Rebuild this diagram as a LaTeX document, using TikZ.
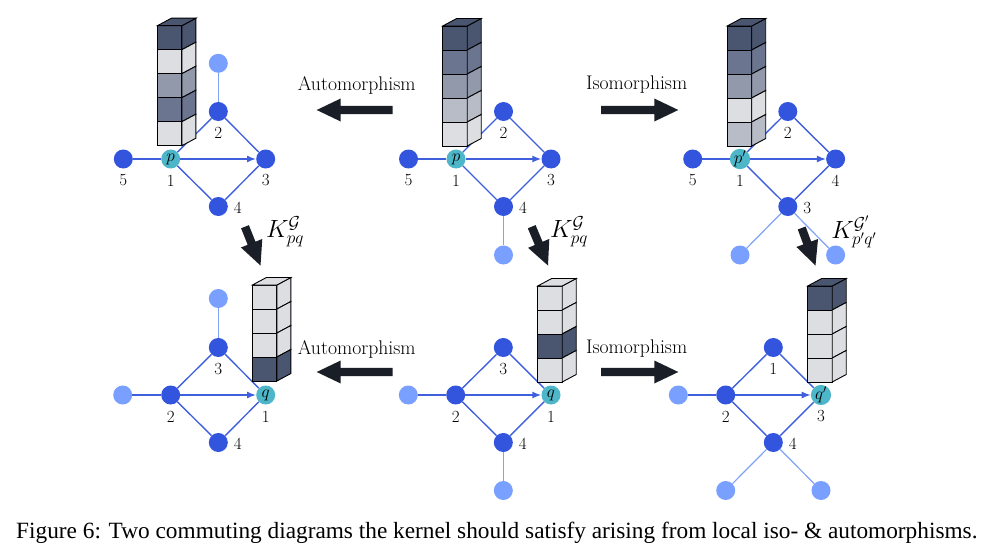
\documentclass[tikz,border=0pt]{standalone}
\usepackage{fontspec}
\usetikzlibrary{calc,arrows.meta}
\newfontfamily\capfont{Liberation Serif}
\definecolor{nd}{HTML}{3355DD}
\definecolor{nl}{HTML}{7AA0FF}
\definecolor{nt}{HTML}{4DB7C9}
\definecolor{ed}{HTML}{3F5FDD}
\definecolor{el}{HTML}{7FA3F5}
\definecolor{cA}{HTML}{4A5570}
\definecolor{cB}{HTML}{6B7590}
\definecolor{cC}{HTML}{9299AA}
\definecolor{cD}{HTML}{B8BCC6}
\definecolor{cE}{HTML}{DCDEE2}
\definecolor{ar}{HTML}{1A1E26}
\tikzset{
 dk/.style={circle,fill=nd,minimum size=19pt,inner sep=0pt},
 lt/.style={circle,fill=nl,minimum size=19pt,inner sep=0pt},
 pn/.style={circle,fill=nt,minimum size=19pt,inner sep=0pt,font=\fontsize{17}{17}\selectfont},
 lab/.style={font=\fontsize{17}{17}\selectfont,inner sep=0pt},
 de/.style={draw=ed,line width=1.4pt},
 le/.style={draw=el,line width=1.2pt},
 ae/.style={de,-{Latex[length=9pt,width=7pt]}},
 cube/.style={draw=black,line width=0.9pt},
 mlab/.style={font=\fontsize{19.7}{20}\selectfont,inner sep=0pt},
 klab/.style={font=\fontsize{24}{24}\selectfont,inner sep=0pt},
}
% tower: #1 x, #2 top y, #3 colours top to bottom
\newcommand\towerat[3]{%
 \foreach \c [count=\i from 0] in {#3} {
  \pgfmathsetmacro\ya{#2+\i*24}
  \filldraw[fill=\c,cube] (#1,\ya) rectangle ++(24.5,24);
  \filldraw[fill=\c,cube] (#1+24.5,\ya) -- ++(14,-7.5) -- ++(0,24) -- ++(-14,7.5) -- cycle;
  \ifnum\i=0
   \filldraw[fill=\c,cube] (#1,\ya) -- ++(14,-7.5) -- ++(24.5,0) -- ++(-14,7.5) -- cycle;
  \fi
 }}
% big arrow from coordinate #1 to coordinate #2
\newcommand\bigarrow[2]{%
 \coordinate (hb) at ($(#2)!24pt!(#1)$);
 \fill[ar] ($(#1)!4.2pt!90:(#2)$) -- ($(hb)!4.2pt!-90:(#1)$) -- ($(hb)!11.5pt!-90:(#1)$) -- (#2)
  -- ($(hb)!11.5pt!90:(#1)$) -- ($(hb)!4.2pt!90:(#1)$) -- ($(#1)!4.2pt!-90:(#2)$) -- cycle;}
\begin{document}
\begin{tikzpicture}[x=1pt,y=-1pt]
\useasboundingbox (0,0) rectangle (986,551);
\fill[white] (0,0) rectangle (986,551);
% ---------- top left ----------
\node[dk] (a5) at (123.3,159) {};
\node[pn] (a1) at (170.7,159) {$p$};
\node[dk] (a2) at (218.3,111.5) {};
\node[dk] (a3) at (265.7,159) {};
\node[dk] (a4) at (218.3,206.5) {};
\node[lt] (a6) at (218.3,63.3) {};
\draw[de] (a5) -- (a1);
\draw[de] (a1) -- (a2);
\draw[de] (a1) -- (a4);
\draw[de] (a2) -- (a3);
\draw[de] (a4) -- (a3);
\draw[le] (a2) -- (a6);
\draw[ae] (a1) -- (a3);
\towerat{157.4}{25.7}{cA,cE,cC,cB,cE}
\node[lab] (la5) at ($(a5)+(0,21.5)$) {5};
\node[lab] (la1) at ($(a1)+(0,21.5)$) {1};
\node[lab] (la3) at ($(a3)+(0,21.5)$) {3};
\node[lab] (la2) at ($(a2)+(0,21.5)$) {2};
\node[lab] (la4) at ($(a4)+(19.5,1.5)$) {4};
% ---------- top middle ----------
\node[dk] (b5) at (408.5,159) {};
\node[pn] (b1) at (456,159) {$p$};
\node[dk] (b2) at (503.5,111.5) {};
\node[dk] (b3) at (551,159) {};
\node[dk] (b4) at (503.5,206.5) {};
\node[lt] (b6) at (503.5,255) {};
\draw[de] (b5) -- (b1);
\draw[de] (b1) -- (b2);
\draw[de] (b1) -- (b4);
\draw[de] (b2) -- (b3);
\draw[de] (b4) -- (b3);
\draw[le] (b4) -- (b6);
\draw[ae] (b1) -- (b3);
\towerat{442.7}{26}{cA,cB,cC,cD,cE}
\node[lab] (lb5) at ($(b5)+(0,21.5)$) {5};
\node[lab] (lb1) at ($(b1)+(0,21.5)$) {1};
\node[lab] (lb3) at ($(b3)+(0,21.5)$) {3};
\node[lab] (lb2) at ($(b2)+(0,21.5)$) {2};
\node[lab] (lb4) at ($(b4)+(19.5,1.5)$) {4};
% ---------- top right ----------
\node[dk] (c5) at (692.7,159) {};
\node[pn] (c1) at (740,159) {$p'$};
\node[dk] (c2) at (787.8,111.5) {};
\node[dk] (c4) at (835.6,159) {};
\node[dk] (c3) at (787.8,206.5) {};
\node[lt] (c6) at (740,255) {};
\node[lt] (c7) at (835.6,255) {};
\draw[de] (c5) -- (c1);
\draw[de] (c1) -- (c2);
\draw[de] (c1) -- (c3);
\draw[de] (c2) -- (c4);
\draw[de] (c3) -- (c4);
\draw[le] (c3) -- (c6);
\draw[le] (c3) -- (c7);
\draw[ae] (c1) -- (c4);
\towerat{727.2}{26}{cA,cB,cC,cE,cD}
\node[lab] (lc5) at ($(c5)+(0,21.5)$) {5};
\node[lab] (lc1) at ($(c1)+(0,21.5)$) {1};
\node[lab] (lc4) at ($(c4)+(0,21.5)$) {4};
\node[lab] (lc2) at ($(c2)+(0,21.5)$) {2};
\node[lab] (lc3) at ($(c3)+(19.5,1.5)$) {3};
% ---------- bottom left ----------
\node[lt] (d5) at (122.7,395) {};
\node[dk] (d2) at (170.7,395) {};
\node[dk] (d3) at (218.3,347.5) {};
\node[pn] (d1) at (265.7,395) {$q$};
\node[dk] (d4) at (218.3,442.5) {};
\node[lt] (d6) at (218.3,298.5) {};
\draw[de] (d5) -- (d2);
\draw[de] (d2) -- (d3);
\draw[de] (d2) -- (d4);
\draw[de] (d3) -- (d1);
\draw[de] (d4) -- (d1);
\draw[le] (d3) -- (d6);
\draw[ae] (d2) -- (d1);
\towerat{252.4}{285}{cE,cE,cE,cA}
\node[lab] (ld2) at ($(d2)+(0,21.5)$) {2};
\node[lab] (ld1) at ($(d1)+(0,21.5)$) {1};
\node[lab] (ld3) at ($(d3)+(0,21.5)$) {3};
\node[lab] (ld4) at ($(d4)+(19.5,1.5)$) {4};
% ---------- bottom middle ----------
\node[lt] (e5) at (408.3,395) {};
\node[dk] (e2) at (455.7,395) {};
\node[dk] (e3) at (503.3,347.5) {};
\node[pn] (e1) at (551,395) {$q$};
\node[dk] (e4) at (503.3,442.5) {};
\node[lt] (e6) at (503.3,490.5) {};
\draw[de] (e5) -- (e2);
\draw[de] (e2) -- (e3);
\draw[de] (e2) -- (e4);
\draw[de] (e3) -- (e1);
\draw[de] (e4) -- (e1);
\draw[le] (e4) -- (e6);
\draw[ae] (e2) -- (e1);
\towerat{537.7}{286}{cE,cE,cA,cE}
\node[lab] (le2) at ($(e2)+(0,21.5)$) {2};
\node[lab] (le1) at ($(e1)+(0,21.5)$) {1};
\node[lab] (le3) at ($(e3)+(0,21.5)$) {3};
\node[lab] (le4) at ($(e4)+(19.5,1.5)$) {4};
% ---------- bottom right ----------
\node[lt] (f5) at (678.3,395) {};
\node[dk] (f2) at (725.7,395) {};
\node[dk] (f1) at (773.3,347.5) {};
\node[pn] (f3) at (821,395) {$q'$};
\node[dk] (f4) at (773.3,442.5) {};
\node[lt] (f6) at (725.7,490.5) {};
\node[lt] (f7) at (821,490.5) {};
\draw[de] (f5) -- (f2);
\draw[de] (f2) -- (f1);
\draw[de] (f2) -- (f4);
\draw[de] (f1) -- (f3);
\draw[de] (f4) -- (f3);
\draw[le] (f4) -- (f6);
\draw[le] (f4) -- (f7);
\draw[ae] (f2) -- (f3);
\towerat{807.7}{286}{cA,cE,cE,cE}
\node[lab] (lf2) at ($(f2)+(0,21.5)$) {2};
\node[lab] (lf3) at ($(f3)+(0,21.5)$) {3};
\node[lab] (lf1) at ($(f1)+(0,21.5)$) {1};
\node[lab] (lf4) at ($(f4)+(19.5,1.5)$) {4};
% ---------- horizontal arrows ----------
\coordinate (h1s) at (392.7,110); \coordinate (h1e) at (316.7,110);
\coordinate (h2s) at (601,110);   \coordinate (h2e) at (678.3,110);
\coordinate (h3s) at (392.7,372); \coordinate (h3e) at (316.7,372);
\coordinate (h4s) at (601,372);   \coordinate (h4e) at (678.3,372);
\bigarrow{h1s}{h1e}
\bigarrow{h2s}{h2e}
\bigarrow{h3s}{h3e}
\bigarrow{h4s}{h4e}
\node[mlab] (t1) at (356.7,85) {Automorphism};
\node[mlab] (t2) at (636.7,85) {Isomorphism};
\node[mlab] (t3) at (356.7,349) {Automorphism};
\node[mlab] (t4) at (636.7,349) {Isomorphism};
% ---------- diagonal arrows ----------
\coordinate (v1s) at (245,226.7); \coordinate (v1e) at (260.5,265.5);
\coordinate (v2s) at (531.7,226.7); \coordinate (v2e) at (548,265.5);
\coordinate (v3s) at (801.7,228); \coordinate (v3e) at (815.5,265.5);
\bigarrow{v1s}{v1e}
\bigarrow{v2s}{v2e}
\bigarrow{v3s}{v3e}
\node[klab] (k1) at (285,232) {$K^{\mathcal{G}}_{pq}$};
\node[klab] (k2) at (569,232) {$K^{\mathcal{G}}_{pq}$};
\node[klab] (k3) at (854,232) {$K^{\mathcal{G}'}_{p'q'}$};
% ---------- caption ----------
\node[anchor=base west,inner sep=0pt,font=\capfont\fontsize{23.3}{27}\selectfont] (cap) at (16,538)
 {Figure 6: Two commuting diagrams the kernel should satisfy arising from local iso- \& automorphisms.};
\end{tikzpicture}
\end{document}
